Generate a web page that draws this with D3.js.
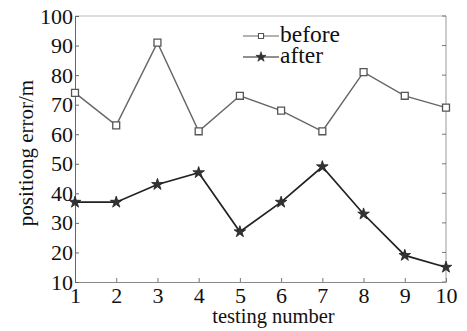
<!DOCTYPE html>
<html>
<head>
<meta charset="utf-8">
<script src="https://cdn.jsdelivr.net/npm/d3@7"></script>
<style>
  body { margin: 0; background: #fff; }
  svg { display: block; }
</style>
</head>
<body>
<div id="chart"></div>
<script>
// data
const tests = [1, 2, 3, 4, 5, 6, 7, 8, 9, 10]
const before = [74, 63, 91, 61, 73, 68, 61, 81, 73, 69]
const after = [37, 37, 43, 47, 27, 37, 49, 33, 19, 15]
const yTicks = [10, 20, 30, 40, 50, 60, 70, 80, 90, 100]

let dimensions = {
  width: 467,
  height: 331,
  margin: { top: 16, bottom: 49, left: 75, right: 21 }
}

const svg = d3.select('#chart')
  .append('svg')
  .attr('width', dimensions.width)
  .attr('height', dimensions.height)
  .style('font-family', '"Liberation Serif", "Times New Roman", serif')

const w = dimensions.width - dimensions.margin.left - dimensions.margin.right
const h = dimensions.height - dimensions.margin.top - dimensions.margin.bottom

const container = svg.append('g')
  .attr('transform', `translate(${dimensions.margin.left},${dimensions.margin.top})`)

// scales
const xScale = d3.scaleLinear().domain([1, 10]).range([0, w])
const yScale = d3.scaleLinear().domain([10, 100]).range([h, 0])

// box: top and right borders
container.append('line')
  .attr('x1', 0).attr('x2', w).attr('y1', 0).attr('y2', 0)
  .attr('stroke', '#bbb').attr('stroke-width', 1)
container.append('line')
  .attr('x1', w).attr('x2', w).attr('y1', 0).attr('y2', h)
  .attr('stroke', '#999').attr('stroke-width', 1)

// right ticks (inward)
container.selectAll('.rtick')
  .data(yTicks)
  .join('line')
  .attr('x1', w - 4).attr('x2', w)
  .attr('y1', d => yScale(d)).attr('y2', d => yScale(d))
  .attr('stroke', '#777')

// x axis
const xAxis = d3.axisBottom(xScale)
  .tickValues(tests)
  .tickSizeInner(-4)
  .tickSizeOuter(0)
  .tickPadding(5)

const xAxisGroup = container.append('g')
  .attr('transform', `translate(0,${h})`)
  .call(xAxis)
xAxisGroup.select('.domain').attr('stroke', '#888')
xAxisGroup.selectAll('.tick line').attr('stroke', '#777')
xAxisGroup.selectAll('text')
  .attr('font-size', '22px')
  .attr('fill', '#111')
  .attr('font-family', '"Liberation Serif", serif')

// y axis
const yAxis = d3.axisLeft(yScale)
  .tickValues(yTicks)
  .tickSizeInner(-4)
  .tickSizeOuter(0)
  .tickPadding(2)

const yAxisGroup = container.append('g').call(yAxis)
yAxisGroup.select('.domain').attr('stroke', '#666')
yAxisGroup.selectAll('.tick line').attr('stroke', '#666')
yAxisGroup.selectAll('text')
  .attr('font-size', '22px')
  .attr('fill', '#111')
  .attr('font-family', '"Liberation Serif", serif')

// axis labels
container.append('text')
  .attr('x', w / 2 + 13)
  .attr('y', h + 41)
  .attr('text-anchor', 'middle')
  .attr('font-size', '20.5px')
  .attr('fill', '#111')
  .text('testing number')

svg.append('text')
  .attr('transform', `translate(33,${dimensions.margin.top + h / 2 + 4}) rotate(-90)`)
  .attr('text-anchor', 'middle')
  .attr('font-size', '21px')
  .attr('fill', '#111')
  .text('positiong error/m')

// lines
const line = d3.line()
  .x((d, i) => xScale(tests[i]))
  .y(d => yScale(d))

container.append('path')
  .datum(before)
  .attr('d', line)
  .attr('fill', 'none')
  .attr('stroke', '#666')
  .attr('stroke-width', 1.4)

container.append('path')
  .datum(after)
  .attr('d', line)
  .attr('fill', 'none')
  .attr('stroke', '#222')
  .attr('stroke-width', 1.7)

// markers
const square = d3.symbol().type(d3.symbolSquare).size(48)
const star = d3.symbol().type(d3.symbolStar).size(42)

container.selectAll('.sq')
  .data(before)
  .join('path')
  .attr('class', 'sq')
  .attr('d', square)
  .attr('transform', (d, i) => `translate(${xScale(tests[i])},${yScale(d)})`)
  .attr('fill', '#fff')
  .attr('stroke', '#555')
  .attr('stroke-width', 1.3)

container.selectAll('.st')
  .data(after)
  .join('path')
  .attr('class', 'st')
  .attr('d', star)
  .attr('transform', (d, i) => `translate(${xScale(tests[i])},${yScale(d)})`)
  .attr('fill', '#333')
  .attr('stroke', '#222')
  .attr('stroke-width', 0.8)

// legend
const legend = svg.append('g').attr('transform', 'translate(243,36)')
legend.append('line').attr('x1', 0).attr('x2', 36).attr('y1', 0).attr('y2', 0)
  .attr('stroke', '#666').attr('stroke-width', 1.2)
legend.append('path').attr('d', d3.symbol().type(d3.symbolSquare).size(26))
  .attr('transform', 'translate(18,0)')
  .attr('fill', '#fff').attr('stroke', '#555').attr('stroke-width', 1.1)
legend.append('text').attr('x', 37).attr('y', 6)
  .attr('font-size', '23.5px').attr('fill', '#111').text('before')

legend.append('line').attr('x1', 0).attr('x2', 36).attr('y1', 21).attr('y2', 21)
  .attr('stroke', '#222').attr('stroke-width', 1.2)
legend.append('path').attr('d', d3.symbol().type(d3.symbolStar).size(32))
  .attr('transform', 'translate(18,21)')
  .attr('fill', '#333').attr('stroke', '#222').attr('stroke-width', 0.6)
legend.append('text').attr('x', 37).attr('y', 27)
  .attr('font-size', '23.5px').attr('fill', '#111').text('after')
</script>
</body>
</html>
